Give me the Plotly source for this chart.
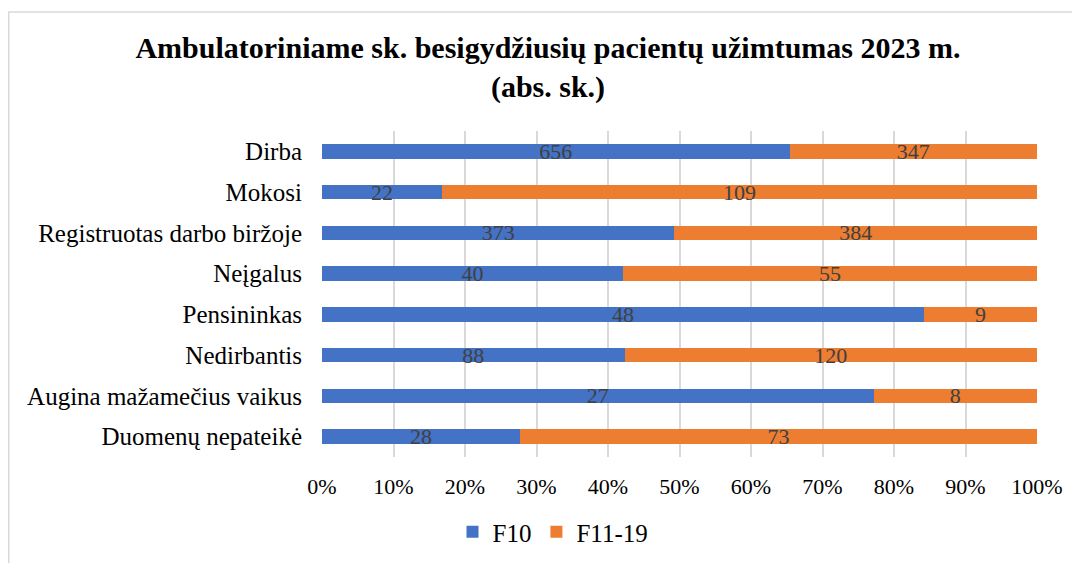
import plotly.graph_objects as go

categories = ["Dirba", "Mokosi", "Registruotas darbo biržoje", "Neįgalus",
              "Pensininkas", "Nedirbantis", "Augina mažamečius vaikus", "Duomenų nepateikė"]
f10 = [656, 22, 373, 40, 48, 88, 27, 28]
f11_19 = [347, 109, 384, 55, 9, 120, 8, 73]
x_ticks = [0, 10, 20, 30, 40, 50, 60, 70, 80, 90, 100]

FONT = "Liberation Serif, Times New Roman, serif"

fig = go.Figure()
for name, vals, color in [("F10", f10, "#4472C4"), ("F11-19", f11_19, "#ED7D31")]:
    fig.add_trace(go.Bar(
        y=categories, x=vals, name=name, orientation="h",
        marker=dict(color=color, line=dict(width=0)),
        text=[str(v) for v in vals], textposition="inside",
        insidetextanchor="middle", textangle=0,
        textfont=dict(family=FONT, size=22, color="#404040"),
        width=0.35, cliponaxis=False,
    ))

# page has an 8px body offset; compensate
OFF = 8
W, H = 1080, 563
L = 322 - OFF
T = 131 - OFF
R = W - (1037 - OFF)
B = H - (457 - OFF)
pw, ph = W - L - R, H - T - B

fig.update_layout(
    width=W, height=H,
    barmode="stack", barnorm="percent",
    margin=dict(l=L, r=R, t=T, b=B, autoexpand=False),
    paper_bgcolor="white", plot_bgcolor="white",
    font=dict(family=FONT, size=22, color="#000000"),
    uniformtext=dict(minsize=22, mode="show"),
    title=dict(
        text="<b>Ambulatoriniame sk. besigydžiusių pacientų užimtumas 2023 m.<br>(abs. sk.)</b>",
        x=(548 - OFF) / W, xanchor="center", xref="container",
        y=1 - (58 - OFF) / H, yanchor="top", yref="container",
        font=dict(family=FONT, size=30, color="#000000"),
    ),
    xaxis=dict(
        range=[0, 100], tickvals=x_ticks, ticktext=[f"{t}%" for t in x_ticks],
        showgrid=True, gridcolor="#d9d9d9", gridwidth=1.5,
        zeroline=False, showline=False, ticks="outside", ticklen=10,
        tickcolor="rgba(0,0,0,0)",
        tickfont=dict(family=FONT, size=22, color="#000000"),
        fixedrange=True, automargin=False,
    ),
    yaxis=dict(
        categoryorder="array", categoryarray=categories[::-1],
        showgrid=False, zeroline=False, showline=False, ticks="outside",
        ticklen=14, tickcolor="rgba(0,0,0,0)",
        tickfont=dict(family=FONT, size=25, color="#000000"),
        automargin=False,
    ),
    legend=dict(
        orientation="h", x=(553 - OFF) / W, xanchor="center", xref="container",
        y=(H - (532 - OFF)) / H, yanchor="middle", yref="container",
        font=dict(family=FONT, size=25, color="#000000"),
        traceorder="normal", itemwidth=30,
    ),
    bargap=0.65,
    shapes=[dict(
        type="rect", xref="paper", yref="paper",
        x0=(0.75 - L) / pw, x1=(W + 10 - L) / pw,
        y0=(H - B - (H + 10)) / ph, y1=(H - B - (12 - OFF)) / ph,
        line=dict(color="#d9d9d9", width=1.5), fillcolor="rgba(0,0,0,0)",
        layer="below",
    )],
)

fig.write_html("out.html")
